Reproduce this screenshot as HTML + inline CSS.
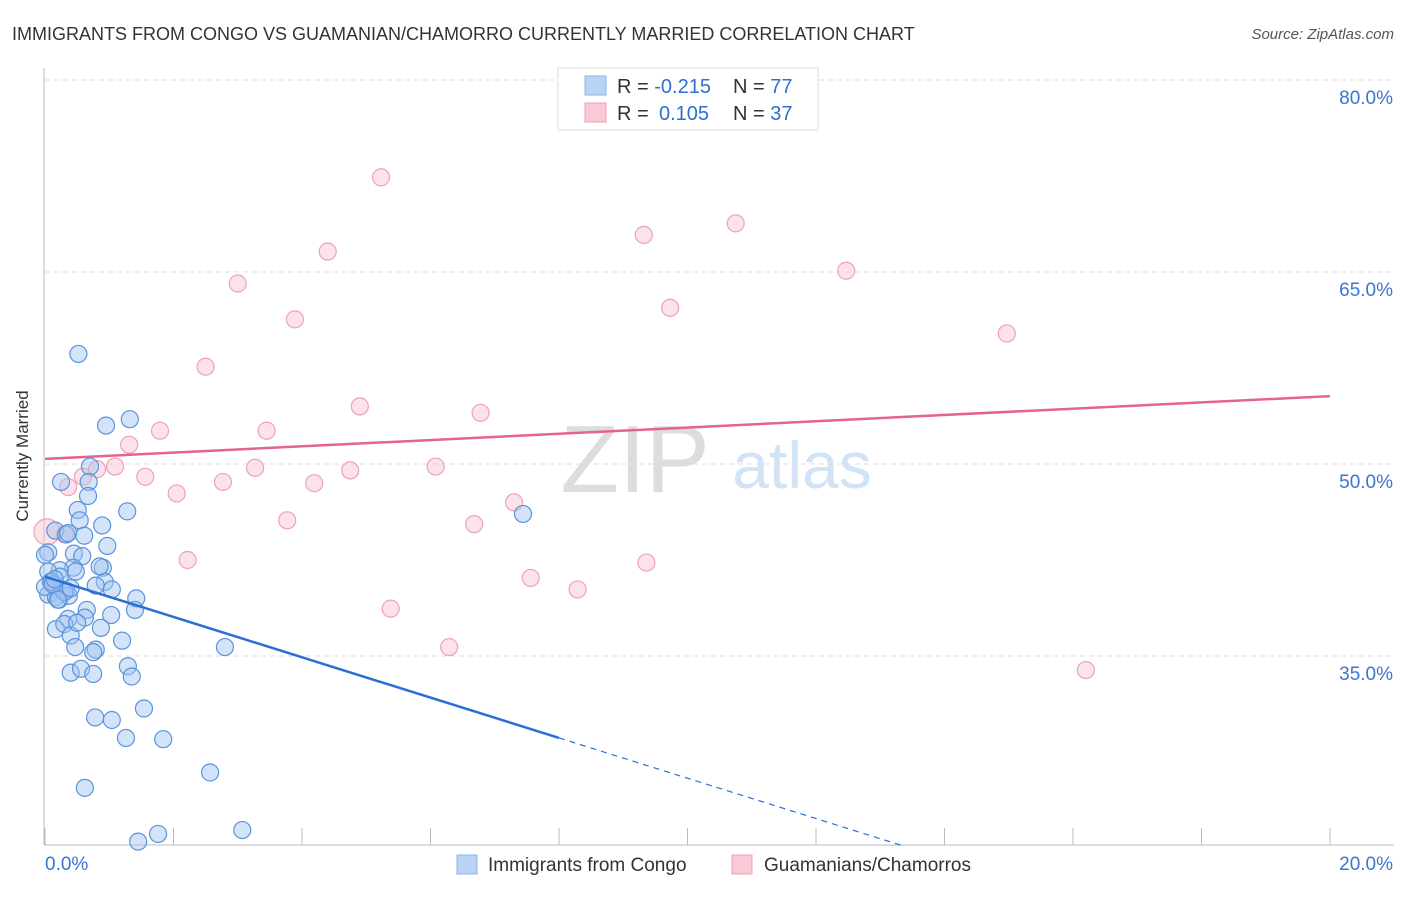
<!DOCTYPE html>
<html><head><meta charset="utf-8"><style>
body{margin:0;background:#fff;font-family:"Liberation Sans",sans-serif;}
svg text{font-family:"Liberation Sans",sans-serif;}
</style></head><body>
<svg id="chart" width="1406" height="892">
<text x="12" y="40" font-size="18" fill="#333">IMMIGRANTS FROM CONGO VS GUAMANIAN/CHAMORRO CURRENTLY MARRIED CORRELATION CHART</text>
<text x="1394" y="39" font-size="15" fill="#555" font-style="italic" text-anchor="end">Source: ZipAtlas.com</text>
<text x="28" y="456" font-size="17" fill="#333" text-anchor="middle" transform="rotate(-90 28 456)">Currently Married</text>
<text x="635" y="492" font-size="96" fill="#ddd" font-family="Liberation Serif" text-anchor="middle">ZIP</text>
<text x="802" y="488" font-size="66" fill="#d3e3f6" text-anchor="middle">atlas</text>
<g id="axes"></g>
<g id="marks"></g>
<g>
<rect x="558" y="68" width="260" height="62" fill="#fff" stroke="#ddd"/>
<rect x="585" y="76" width="21" height="19" fill="#b8d3f5" stroke="#8db4e8"/>
<rect x="585" y="103" width="21" height="19" fill="#f9c9d6" stroke="#ef9fb5"/>
<text x="617" y="93" font-size="20" fill="#333">R = <tspan fill="#2e6fd0">-0.215</tspan><tspan x="733">N = </tspan><tspan fill="#2e6fd0">77</tspan></text>
<text x="617" y="120" font-size="20" fill="#333">R = <tspan x="659" fill="#2e6fd0">0.105</tspan><tspan x="733">N = </tspan><tspan fill="#2e6fd0">37</tspan></text>
</g>
<g>
<rect x="457" y="855" width="20" height="19" fill="#b8d3f5" stroke="#8db4e8"/>
<text x="488" y="871" font-size="19" fill="#333">Immigrants from Congo</text>
<rect x="732" y="855" width="20" height="19" fill="#f9c9d6" stroke="#ef9fb5"/>
<text x="764" y="871" font-size="19" fill="#333">Guamanians/Chamorros</text>
</g>
</svg>
<script>
const yTicks=[80,65,50,35];
const xTickLabels=["0.0%","20.0%"];
const blueX=[0.52,1.32,0.95,0.70,0.68,0.25,0.67,1.28,0.51,0.54,0.89,0.16,0.33,0.05,0.45,0.97,0.58,0.44,0.90,0.23,0.05,0.48,0.93,0.09,0.16,0.79,1.04,0.26,0.33,0.05,0.17,0.22,0.37,1.42,0.65,1.03,1.40,0.36,0.17,0.30,0.87,0.40,1.20,0.47,0.79,0.75,1.29,0.40,0.56,0.75,1.35,1.54,0.78,1.04,1.26,1.84,2.80,2.57,0.62,1.76,3.07,1.45,7.44,0.0,0.0,0.23,0.36,0.61,0.10,0.30,0.12,0.20,0.40,0.85,0.62,0.50,0.15];
const blueY=[58.6,53.5,53.0,49.8,48.6,48.6,47.5,46.3,46.4,45.6,45.2,44.8,44.5,43.1,43.0,43.6,42.8,41.9,41.9,41.7,41.6,41.6,40.8,40.8,40.5,40.5,40.2,40.2,40.1,39.8,39.6,39.4,39.7,39.5,38.6,38.2,38.6,37.9,37.1,37.5,37.2,36.6,36.2,35.7,35.5,35.3,34.2,33.7,34.0,33.6,33.4,30.9,30.2,30.0,28.6,28.5,35.7,25.9,24.7,21.1,21.4,20.5,46.1,42.9,40.4,41.2,44.6,44.4,40.8,40.0,40.6,39.4,40.3,42.0,38.0,37.6,41.0];
const pinkX=[5.23,10.75,9.32,4.40,12.47,3.00,9.73,3.89,14.97,2.50,4.90,6.78,1.79,3.45,1.31,1.09,3.27,4.75,6.08,0.81,1.56,0.59,2.77,4.19,0.36,2.05,7.30,3.77,6.68,0.31,2.22,9.36,7.56,8.29,5.38,6.29,16.20,0.03];
const pinkY=[72.4,68.8,67.9,66.6,65.1,64.1,62.2,61.3,60.2,57.6,54.5,54.0,52.6,52.6,51.5,49.8,49.7,49.5,49.8,49.6,49.0,49.0,48.6,48.5,48.2,47.7,47.0,45.6,45.3,44.5,42.5,42.3,41.1,40.2,38.7,35.7,33.9,44.7];
const trendBlue=[41.2,-1.575];
const trendPink=[50.4,0.245];
const X=v=>45+v*64.25, Y=v=>80+(80-v)*12.8;
const NS="http://www.w3.org/2000/svg";
function mk(tag,attrs,parent){const e=document.createElementNS(NS,tag);for(const k in attrs)e.setAttribute(k,attrs[k]);parent.appendChild(e);return e;}
const axes=document.getElementById('axes'), marks=document.getElementById('marks');
yTicks.forEach(t=>{
 const l=mk('line',{x1:45,x2:1394,y1:Y(t),y2:Y(t),stroke:'#ddd','stroke-dasharray':'5,4'},axes);
 
 
 const tx=mk('text',{x:1393,y:Y(t)+24,'font-size':19,fill:'#3a75d0','text-anchor':'end'},axes);
 tx.textContent=t.toFixed(1)+'%';
 
 
});
const ax=mk('line',{x1:44,x2:44,y1:68,y2:845,stroke:'#bbb'},axes);


const bx=mk('line',{x1:44,x2:1394,y1:845,y2:845,stroke:'#bbb'},axes);


for(let i=0;i<=10;i++){
 const tk=mk('line',{x1:X(i*2),x2:X(i*2),y1:828,y2:845,stroke:'#bbb'},axes);
 
 
}
[[0,'start',45],[1,'end',1393]].forEach(([i,a,x])=>{
 const t=mk('text',{x:x,y:870,'font-size':19,fill:'#3a75d0','text-anchor':a},axes);
 t.textContent=xTickLabels[i];
 
 
});
pinkX.forEach((v,i)=>{
 const c=mk('circle',{cx:X(v),cy:Y(pinkY[i]),r:i===pinkX.length-1?13:8.5,fill:'rgba(249,190,207,0.45)',stroke:'#eea2b8','stroke-width':1.2},marks);
 
 
});
blueX.forEach((v,i)=>{
 const c=mk('circle',{cx:X(v),cy:Y(blueY[i]),r:8.5,fill:'rgba(160,196,240,0.45)',stroke:'#5b93dc','stroke-width':1.2},marks);
 
 
});
const pl=mk('line',{x1:X(0),y1:Y(trendPink[0]),x2:X(20),y2:Y(trendPink[0]+20*trendPink[1]),stroke:'#e4638f','stroke-width':2.5},marks);


const xs=8, xe=(20.2-trendBlue[0])/trendBlue[1];
const bl=mk('line',{x1:X(0),y1:Y(trendBlue[0]),x2:X(xs),y2:Y(trendBlue[0]+xs*trendBlue[1]),stroke:'#2a6fd6','stroke-width':2.5},marks);


const bd=mk('line',{x1:X(xs),y1:Y(trendBlue[0]+xs*trendBlue[1]),x2:X(xe),y2:Y(20.2),stroke:'#2a6fd6','stroke-width':1.2,'stroke-dasharray':'6,5'},marks);


</script>
</body></html>
